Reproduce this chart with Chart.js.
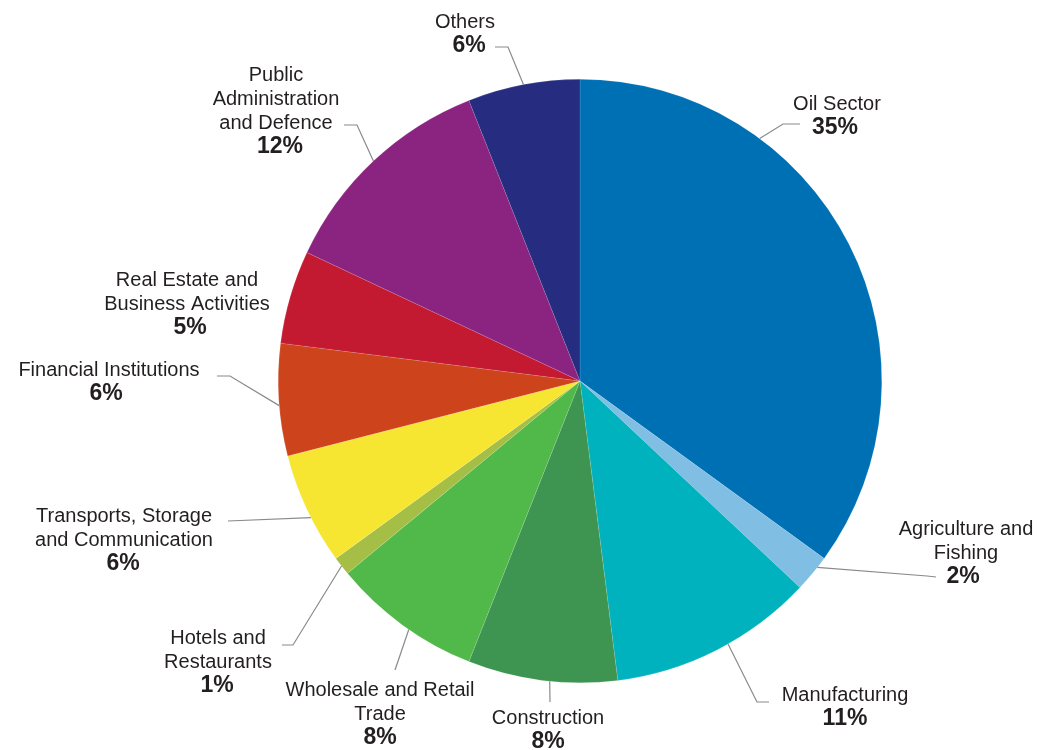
<!DOCTYPE html>
<html>
<head>
<meta charset="utf-8">
<script src="https://cdn.jsdelivr.net/npm/chart.js@4.4.1/dist/chart.umd.min.js"></script>
<style>
  html, body { margin: 0; padding: 0; background: #fff; }
  #wrap { width: 1041px; height: 750px; position: relative; }
</style>
</head>
<body>
<div id="wrap"><canvas id="chart" width="1041" height="750"></canvas></div>
<script>
const sectors = [
  ['Oil Sector'],
  ['Agriculture and', 'Fishing'],
  ['Manufacturing'],
  ['Construction'],
  ['Wholesale and Retail', 'Trade'],
  ['Hotels and', 'Restaurants'],
  ['Transports, Storage', 'and Communication'],
  ['Financial Institutions'],
  ['Real Estate and', 'Business Activities'],
  ['Public', 'Administration', 'and Defence'],
  ['Others']
];
const shares = [35, 2, 11, 8, 8, 1, 6, 6, 5, 12, 6];
const sliceColors = [
  '#0070b5', '#80bee3', '#00b1be', '#3d9551', '#51b949', '#a5bf46',
  '#f6e632', '#cd431c', '#c41a31', '#8b2381', '#262c7f'
];

// where each label sits: text centre x, first line y, and the leader path
// (t = position along the slice where the leader touches the rim)
const labelPlaces = [
  { x: 837, y: 104, pctX: 835, t: 0.29, path: [[783, 124], [800, 124]] },
  { x: 966, y: 529, pctX: 963, t: 0.30, path: [[927, 576], [936, 577]] },
  { x: 845, y: 695, pctX: 845, t: 0.44, path: [[757, 702], [769, 702]] },
  { x: 548, y: 718, pctX: 548, t: 0.45, path: [[550, 702]] },
  { x: 380, y: 690, pctX: 380, t: 0.45, path: [[395, 670]] },
  { x: 218, y: 638, pctX: 217, t: 0.50, path: [[293, 645], [282, 645]] },
  { x: 124, y: 516, pctX: 123, t: 0.42, path: [[228, 521]] },
  { x: 109, y: 370, pctX: 106, t: 0.45, path: [[230, 376], [217, 376]] },
  { x: 187, y: 280, pctX: 190, t: 0.50, path: null },
  { x: 276, y: 75, pctX: 280, t: 0.50, path: [[357, 125], [344, 125]] },
  { x: 465, y: 22, pctX: 469, t: 0.50, path: [[508, 47], [495, 47]] }
];

const NAME_FONT = '20px "Liberation Sans", Arial, sans-serif';
const PCT_FONT = 'bold 23px "Liberation Sans", Arial, sans-serif';
const LINE_H = 24;

const calloutPlugin = {
  id: 'callouts',
  afterDatasetsDraw(chart) {
    const ctx = chart.ctx;
    const arcs = chart.getDatasetMeta(0).data;
    ctx.save();
    arcs.forEach((arc, i) => {
      const place = labelPlaces[i];
      const { x, y, startAngle, endAngle, outerRadius } =
        arc.getProps(['x', 'y', 'startAngle', 'endAngle', 'outerRadius'], true);
      if (place.path) {
        const a = startAngle + (endAngle - startAngle) * place.t;
        ctx.beginPath();
        ctx.moveTo(x + Math.cos(a) * outerRadius, y + Math.sin(a) * outerRadius);
        place.path.forEach(p => ctx.lineTo(p[0], p[1]));
        ctx.strokeStyle = '#8a8a8a';
        ctx.lineWidth = 1.2;
        ctx.stroke();
      }
      ctx.fillStyle = '#231f20';
      ctx.textAlign = 'center';
      ctx.textBaseline = 'middle';
      ctx.font = NAME_FONT;
      const lines = sectors[i];
      lines.forEach((ln, k) => ctx.fillText(ln, place.x, place.y + k * LINE_H));
      ctx.font = PCT_FONT;
      ctx.fillText(shares[i] + '%', place.pctX, place.y + lines.length * LINE_H);
    });
    ctx.restore();
  }
};

new Chart(document.getElementById('chart'), {
  type: 'pie',
  data: {
    labels: sectors.map(s => s.join(' ')),
    datasets: [{
      data: shares,
      backgroundColor: sliceColors,
      borderColor: 'rgba(255,255,255,0.3)',
      borderWidth: 0.4
    }]
  },
  options: {
    responsive: false,
    animation: false,
    layout: { padding: { left: 278, right: 159, top: 79, bottom: 67 } },
    plugins: {
      legend: { display: false },
      tooltip: { enabled: false }
    }
  },
  plugins: [calloutPlugin]
});
</script>
</body>
</html>
